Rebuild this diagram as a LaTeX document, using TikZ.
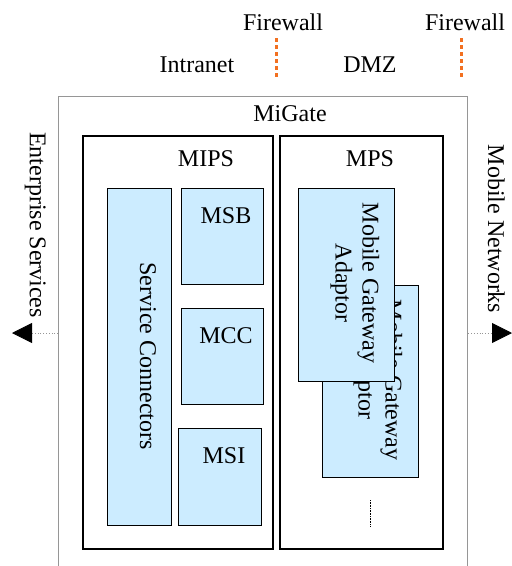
\documentclass[tikz,border=0pt]{standalone}
\usepackage{fontspec}
\setmainfont{Liberation Serif}
\usetikzlibrary{arrows.meta}
\definecolor{boxblue}{RGB}{204,236,255}
\definecolor{fworange}{RGB}{242,112,32}
\definecolor{edgegray}{RGB}{150,150,150}
\newcommand{\diagfont}{\fontsize{24}{27}\selectfont}
\newcommand{\arrowY}{333}

\begin{document}
\begin{tikzpicture}[x=1pt,y=-1pt,
    every node/.style={font=\diagfont, inner sep=0pt},
    frame/.style={draw=black, line width=1.5pt, anchor=north west},
    unit/.style={draw=black, line width=1.2pt, fill=boxblue, anchor=north west},
    txt/.style={anchor=base},
    vtxt/.style={rotate=-90, anchor=base},
    firewall/.style={draw=fworange, line width=3pt, dash pattern=on 4pt off 3pt},
    link/.style={draw=edgegray, line width=0.8pt, dotted, -{Triangle[length=20pt,width=20pt,color=black]}}]

        \useasboundingbox (0,0) rectangle (512,566);

        % Zones and firewalls along the top
        \node[txt] (fw1) at (283,30) {Firewall};
        \node[txt] (fw2) at (465,30) {Firewall};
        \node[txt] (intranet) at (197,72) {Intranet};
        \node[txt] (dmz) at (370,72) {DMZ};
        \draw[firewall] (276,38) -- (276,79);
        \draw[firewall] (461,38) -- (461,79);

        % MiGate box, runs past the bottom edge
        \node[draw=edgegray, line width=1.3pt, anchor=north west,
              minimum width=409pt, minimum height=520pt] (migate) at (58,96) {};
        \node[txt] (migatetxt) at (290,121) {MiGate};

        % MIPS and MPS
        \node[frame, minimum width=190pt, minimum height=413pt] (mips) at (82,135) {};
        \node[frame, minimum width=163pt, minimum height=413pt] (mps) at (279,135) {};
        \node[txt] (mipstxt) at (206,166) {MIPS};
        \node[txt] (mpstxt) at (370,166) {MPS};

        % Parts of MIPS
        \node[unit, minimum width=64pt, minimum height=337pt] (sc) at (107,188) {};
        \node[vtxt] (sctxt) at (140,356) {Service Connectors};
        \node[unit, minimum width=82pt, minimum height=96pt] (msb) at (181,188) {};
        \node[txt] (msbtxt) at (226,223) {MSB};
        \node[unit, minimum width=82pt, minimum height=96pt] (mcc) at (181,308) {};
        \node[txt] (mcctxt) at (226,343) {MCC};
        \node[unit, minimum width=83pt, minimum height=97pt] (msi) at (178,428) {};
        \node[txt] (msitxt) at (224,463) {MSI};

        % Parts of MPS, back one first
        \node[unit, minimum width=96pt, minimum height=192pt] (mgaback) at (322,285) {};
        \node[rotate=-90, align=center] (mgabacktxt) at (378,380) {Mobile Gateway\\Adaptor};
        \node[unit, minimum width=96pt, minimum height=193pt] (mgafront) at (298,188) {};
        \node[rotate=-90, align=center] (mgafronttxt) at (355,283) {Mobile Gateway\\Adaptor};
        \draw[line width=0.8pt, dash pattern=on 0.6pt off 1pt] (370,500) -- (370,527);

        % Outside world on both sides
        \node[vtxt] (entsrv) at (30,225) {Enterprise Services};
        \node[vtxt] (mobnet) at (488,229) {Mobile Networks};
        \coordinate (esout) at (migate.west |- 0,\arrowY);
        \coordinate (esend) at (12,\arrowY);
        \coordinate (mnout) at (migate.east |- 0,\arrowY);
        \coordinate (mnend) at (512,\arrowY);
        \draw[link] (esout) -- (esend);
        \draw[link] (mnout) -- (mnend);
    \end{tikzpicture}
\end{document}
